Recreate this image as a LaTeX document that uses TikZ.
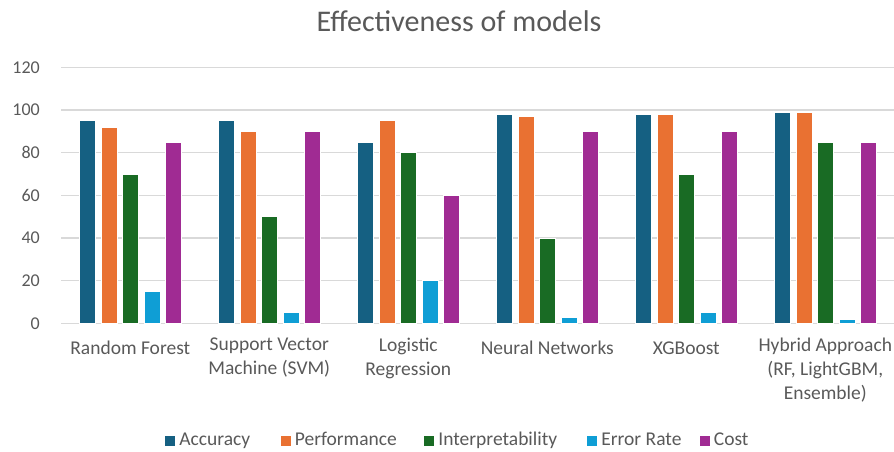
\documentclass[tikz,border=0pt]{standalone}
\usepackage{fontspec}
\setmainfont{Carlito}
\usetikzlibrary{positioning}
\definecolor{accuracy}{HTML}{156082}
\definecolor{performance}{HTML}{E97132}
\definecolor{interpret}{HTML}{196B24}
\definecolor{errorrate}{HTML}{0F9ED5}
\definecolor{cost}{HTML}{A02B93}
\definecolor{gridgray}{HTML}{D9D9D9}
\definecolor{labelgray}{HTML}{595959}
\begin{document}
\begin{tikzpicture}[x=1pt, y=1pt,
                          gridline/.style={draw=gridgray, line width=1.2pt},
                          bar/.style={draw=white, line width=0.6pt},
                          titlenode/.style={text=labelgray, font=\fontsize{30}{34}\selectfont, inner sep=0pt},
                          ticklabel/.style={text=labelgray, font=\fontsize{18}{20}\selectfont, anchor=east, inner sep=0pt},
                          catlabel/.style={text=labelgray, font=\fontsize{19.5}{24}\selectfont, align=center, anchor=north, inner sep=0pt, execute at begin node=\strut},
                          legendbox/.style={rectangle, minimum size=10pt, inner sep=0pt},
                          legendtext/.style={text=labelgray, font=\fontsize{19.5}{22}\selectfont, inner sep=0pt, text height=13pt, text depth=4pt},
                      ]
                      \useasboundingbox (0,0) rectangle (894,451);

                      %Title
                      \node[titlenode]      (title)   at (459,430)      {Effectiveness of models};

                      %Grid and values
                      \begin{scope}[shift={(0,127.7)}, y=2.1333pt]
                      \foreach \v in {0,20,...,120}{
                          \draw[gridline] (61,\v) -- (894,\v);
                          \node[ticklabel] (tick\v) at (40,\v) {\v};
                      }
                      \foreach \acc/\perf/\intp/\err/\cost [count=\i from 0] in
                          {95/92/70/15/85, 95/90/50/5/90, 85/95/80/20/60,
                           98/97/40/3/90, 98/98/70/5/90, 99/99/85/2/85}{
                          \pgfmathsetmacro{\cx}{130.3+139*\i}
                          \filldraw[bar, fill=accuracy]    (\cx-51,0)   rectangle ++(16.4,\acc);
                          \filldraw[bar, fill=performance] (\cx-29.5,0) rectangle ++(16.4,\perf);
                          \filldraw[bar, fill=interpret]   (\cx-8,0)    rectangle ++(16.4,\intp);
                          \filldraw[bar, fill=errorrate]   (\cx+13.5,0) rectangle ++(16.4,\err);
                          \filldraw[bar, fill=cost]        (\cx+35,0)   rectangle ++(16.4,\cost);
                      }
                      \end{scope}

                      %Category labels
                      \node[catlabel]       (rf)      at (130.3,113.3)  {Random Forest};
                      \node[catlabel]       (svm)     at (269.3,113.3)  {Support Vector\\Machine (SVM)};
                      \node[catlabel]       (lr)      at (408.3,113.3)  {Logistic\\Regression};
                      \node[catlabel]       (nn)      at (547.3,113.3)  {Neural Networks};
                      \node[catlabel]       (xgb)     at (686.3,113.3)  {XGBoost};
                      \node[catlabel]       (hyb)     at (825.3,113.3)  {Hybrid Approach\\(RF, LightGBM,\\Ensemble)};

                      %Legend
                      \node[legendbox, fill=accuracy]    (legacc)  at (170,10)   {};
                      \node[legendtext]     (txtacc)  [right=4pt of legacc]   {Accuracy};
                      \node[legendbox, fill=performance] (legperf) at (285.5,10) {};
                      \node[legendtext]     (txtperf) [right=4pt of legperf]  {Performance};
                      \node[legendbox, fill=interpret]   (legint)  at (429,10)   {};
                      \node[legendtext]     (txtint)  [right=4pt of legint]   {Interpretability};
                      \node[legendbox, fill=errorrate]   (legerr)  at (592,10)   {};
                      \node[legendtext]     (txterr)  [right=4pt of legerr]   {Error Rate};
                      \node[legendbox, fill=cost]        (legcost) at (704.5,10) {};
                      \node[legendtext]     (txtcost) [right=4pt of legcost]  {Cost};
                  \end{tikzpicture}
\end{document}
